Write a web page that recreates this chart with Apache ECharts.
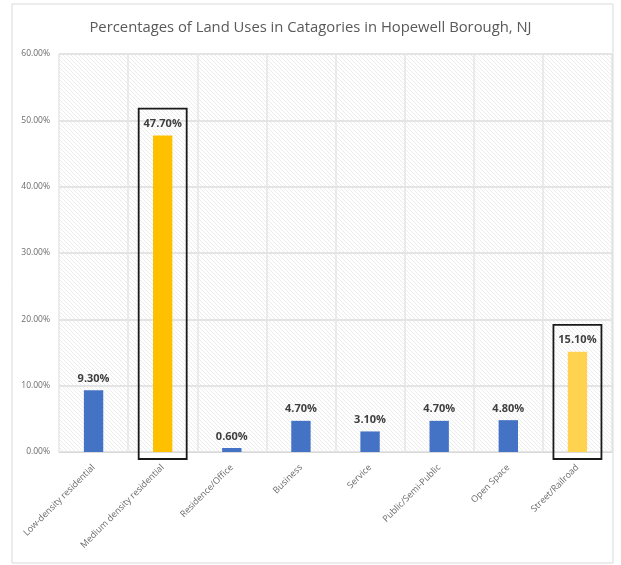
<!DOCTYPE html>
<html>
<head>
<meta charset="utf-8">
<script src="https://cdn.jsdelivr.net/npm/echarts@6/dist/echarts.min.js"></script>
<style>
  html, body { margin: 0; padding: 0; background: #fff; }
  #chart { width: 621px; height: 565px; }
</style>
</head>
<body>
<div id="chart"></div>
<script>
// Land use shares for Hopewell Borough, NJ
const categories = [
  'Low-density residential',
  'Medium density residential',
  'Residence/Office',
  'Business',
  'Service',
  'Public/Semi-Public',
  'Open Space',
  'Street/Railroad'
];
const percentValues = [9.3, 47.7, 0.6, 4.7, 3.1, 4.7, 4.8, 15.1];
const barColors = ['#4472c4', '#ffc000', '#4472c4', '#4472c4', '#4472c4', '#4472c4', '#4472c4', '#ffd34f'];
const highlighted = [1, 7]; // categories outlined with a box
const yTicks = [0, 10, 20, 30, 40, 50, 60];

// Diagonal hatch texture for the plot background
function hatchPattern() {
  const c = document.createElement('canvas');
  c.width = 4; c.height = 4;
  const g = c.getContext('2d');
  g.fillStyle = '#ffffff';
  g.fillRect(0, 0, 4, 4);
  g.strokeStyle = 'rgba(200,200,200,0.5)';
  g.lineWidth = 0.7;
  g.beginPath();
  g.moveTo(-1, -1); g.lineTo(5, 5);
  g.moveTo(-3, 1); g.lineTo(3, 7);
  g.moveTo(1, -3); g.lineTo(7, 3);
  g.stroke();
  return c;
}

const chart = echarts.init(document.getElementById('chart'), null, { renderer: 'canvas' });

const option = {
  animation: false,
  backgroundColor: '#ffffff',
  title: {
    text: 'Percentages of Land Uses in Catagories in Hopewell Borough, NJ',
    left: 'center',
    top: 15,
    textStyle: {
      fontFamily: 'Open Sans',
      fontSize: 14.8,
      fontWeight: 'normal',
      color: '#595959'
    }
  },
  grid: {
    left: 59,
    right: 9,
    top: 54,
    bottom: 113,
    show: true,
    borderWidth: 0,
    backgroundColor: { image: hatchPattern(), repeat: 'repeat' }
  },
  xAxis: {
    type: 'category',
    data: categories,
    axisLine: { show: true, lineStyle: { color: '#d9d9d9' } },
    axisTick: { show: false },
    splitLine: { show: true, interval: 0, lineStyle: { color: '#e6e6e6', width: 1.5 } },
    axisLabel: {
      interval: 0,
      rotate: 45,
      fontFamily: 'Open Sans',
      fontSize: 9,
      color: '#6b6b6b',
      margin: 14
    }
  },
  yAxis: {
    type: 'value',
    min: yTicks[0],
    max: yTicks[yTicks.length - 1],
    interval: 10,
    axisLine: { show: false },
    axisTick: { show: false },
    splitLine: { lineStyle: { color: '#e4e4e4', width: 2 } },
    axisLabel: {
      fontFamily: 'Open Sans',
      fontSize: 8.5,
      color: '#6b6b6b',
      margin: 9,
      formatter: v => v.toFixed(2) + '%'
    }
  },
  series: [{
    type: 'bar',
    barWidth: '28%',
    data: percentValues.map((v, i) => ({ value: v, itemStyle: { color: barColors[i] } })),
    label: {
      show: true,
      position: 'top',
      distance: 6,
      fontFamily: 'Open Sans',
      fontWeight: 'bold',
      fontSize: 11,
      color: '#404040',
      formatter: p => p.value.toFixed(2) + '%'
    }
  }]
};

chart.setOption(option);

// Outline boxes around highlighted bars plus the outer chart frame
const boxes = highlighted.map(i => {
  const top = chart.convertToPixel({ gridIndex: 0 }, [i, percentValues[i]]);
  const base = chart.convertToPixel({ gridIndex: 0 }, [i, 0]);
  const halfW = 24;
  const y0 = top[1] - 27;
  return {
    type: 'rect',
    shape: { x: top[0] - halfW, y: y0, width: halfW * 2, height: base[1] + 7 - y0 },
    style: { fill: null, stroke: '#1a1a1a', lineWidth: 1.8 },
    z: 10
  };
});
boxes.push({
  type: 'rect',
  shape: { x: 12, y: 4, width: 601, height: 559 },
  style: { fill: null, stroke: '#d9d9d9', lineWidth: 1 },
  z: 0
});
chart.setOption({ graphic: boxes });
</script>
</body>
</html>
